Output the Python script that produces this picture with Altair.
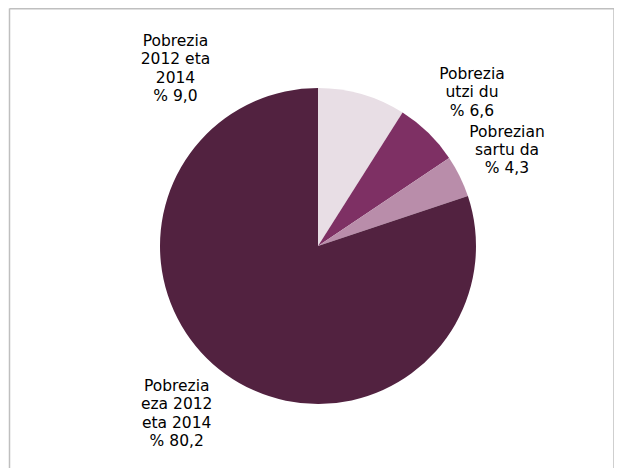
import altair as alt
import pandas as pd

categories = ["Pobrezia 2012 eta 2014", "Pobrezia utzi du", "Pobrezian sartu da", "Pobrezia eza 2012 eta 2014"]
values = [9.0, 6.6, 4.3, 80.2]
colors = ["#E8DEE5", "#7E3064", "#B98DAA", "#522240"]
label_lines = [
    ["Pobrezia", "2012 eta", "2014", "% 9,0"],
    ["Pobrezia", "utzi du", "% 6,6"],
    ["Pobrezian", "sartu da", "% 4,3"],
    ["Pobrezia", "eza 2012", "eta 2014", "% 80,2"],
]

df = pd.DataFrame({"cat": categories, "value": values, "order": list(range(len(values)))})

W, H = 606, 460
CX, CY, R = 310, 238, 158
FONT = "DejaVu Sans"

pie = alt.Chart(df).mark_arc(outerRadius=R, stroke=None).encode(
    theta=alt.Theta("value:Q", stack=True),
    order=alt.Order("order:Q"),
    color=alt.Color("cat:N", scale=alt.Scale(domain=categories, range=colors), legend=None),
    x=alt.value(CX),
    y=alt.value(CY),
)

# (x centre, baseline of first line) in chart pixels
label_pos = [(167.5, 38), (464, 71), (499, 128.7), (168.7, 383)]
layers = [pie]
for lines, (lx, ly) in zip(label_lines, label_pos):
    t = alt.Chart(pd.DataFrame({"t": [lines]})).mark_text(
        font=FONT, fontSize=15.5, align="center", baseline="alphabetic", lineHeight=18.4, color="#000000"
    ).encode(text="t", x=alt.value(lx), y=alt.value(ly))
    layers.append(t)

border_color = "#BFBFBF"
bdf = pd.DataFrame({"a": [0]})
left = alt.Chart(bdf).mark_rule(color=border_color, strokeWidth=1.5).encode(
    x=alt.value(1.5), y=alt.value(0.5), y2=alt.value(H + 10))
right = alt.Chart(bdf).mark_rule(color=border_color, strokeWidth=1.5).encode(
    x=alt.value(606), y=alt.value(0.5), y2=alt.value(H + 10))
top = alt.Chart(bdf).mark_rule(color=border_color, strokeWidth=1.5).encode(
    x=alt.value(1.5), x2=alt.value(606), y=alt.value(0.75))
layers += [left, right, top]

chart = alt.layer(*layers).properties(
    width=W, height=H, autosize=alt.AutoSizeParams(type="none"), padding=0
).configure_view(stroke=None)

chart.save("out.html", embed_options={"renderer": "svg", "actions": False})
